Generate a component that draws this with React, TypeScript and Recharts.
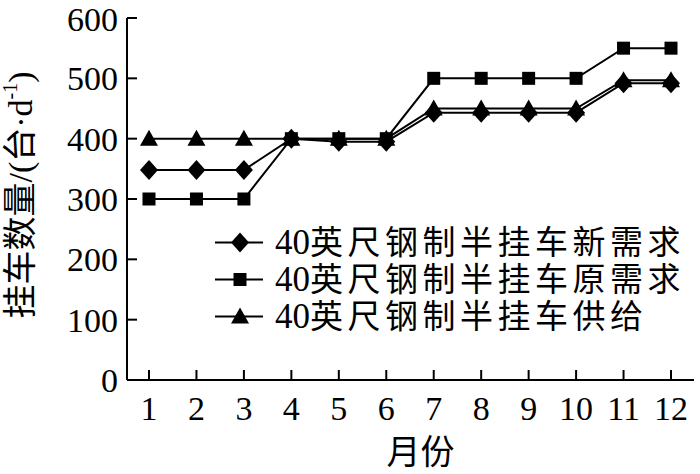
import { Legend, Line, LineChart, XAxis, YAxis } from 'recharts'

const months = ['1', '2', '3', '4', '5', '6', '7', '8', '9', '10', '11', '12']
const newDemand = [348, 348, 348, 400, 395, 395, 443, 443, 443, 443, 492, 492]
const oldDemand = [300, 300, 300, 400, 400, 400, 500, 500, 500, 500, 550, 550]
const supply = [400, 400, 400, 400, 400, 400, 450, 450, 450, 450, 497, 497]
const yTicks = [0, 100, 200, 300, 400, 500, 600]

const seriesNames: Record<string, string> = {
  newDemand: '40英尺钢制半挂车新需求',
  oldDemand: '40英尺钢制半挂车原需求',
  supply: '40英尺钢制半挂车供给',
}
const legendOrder = ['newDemand', 'oldDemand', 'supply']

type Shape = 'diamond' | 'square' | 'triangle'
const shapes: Record<string, Shape> = {
  newDemand: 'diamond',
  oldDemand: 'square',
  supply: 'triangle',
}

const data = months.map((month, i) => ({
  month,
  newDemand: newDemand[i],
  oldDemand: oldDemand[i],
  supply: supply[i],
}))

const font = '"Liberation Serif", "Times New Roman", "Noto Sans CJK SC", serif'

function markerEl(shape: Shape, cx: number, cy: number, key?: string) {
  if (shape === 'diamond') {
    return (
      <polygon
        key={key}
        points={`${cx},${cy - 10} ${cx + 9},${cy} ${cx},${cy + 10} ${cx - 9},${cy}`}
        fill="#000"
      />
    )
  }
  if (shape === 'square') {
    return <rect key={key} x={cx - 6.5} y={cy - 6.5} width={13} height={13} fill="#000" />
  }
  return (
    <polygon
      key={key}
      points={`${cx},${cy - 9} ${cx + 9},${cy + 7} ${cx - 9},${cy + 7}`}
      fill="#000"
    />
  )
}

function dotFor(shape: Shape) {
  return (p: any) => {
    if (p.cx == null || p.cy == null) return <g key={`${shape}-${p.index}`} />
    return markerEl(shape, p.cx, p.cy, `${shape}-${p.index}`)
  }
}

function LegendBox({ payload }: any) {
  const items = [...(payload || [])].sort(
    (a: any, b: any) => legendOrder.indexOf(a.dataKey) - legendOrder.indexOf(b.dataKey),
  )
  return (
    <div style={{ fontFamily: font, fontSize: 33, color: '#000' }}>
      {items.map((item: any) => {
        const m = String(item.value).match(/^(\d*)(.*)$/) || ['', '', String(item.value)]
        return (
          <div
            key={item.dataKey}
            style={{ display: 'flex', alignItems: 'center', height: 37, whiteSpace: 'nowrap' }}
          >
            <svg width={60} height={37} style={{ flex: 'none' }}>
              <line x1={0} y1={18.5} x2={48} y2={18.5} stroke="#000" strokeWidth={2} />
              {markerEl(shapes[item.dataKey], 25, 18.5)}
            </svg>
            <span style={{ display: 'block', lineHeight: '37px', height: 37 }}>
              <span style={{ fontSize: 35 }}>{m[1]}</span>
              <span style={{ letterSpacing: 4.5 }}>{m[2]}</span>
            </span>
          </div>
        )
      })}
    </div>
  )
}

function YTitle({ viewBox }: any) {
  const cy = viewBox.y + viewBox.height / 2 - 4
  return (
    <text
      x={0}
      y={0}
      transform={`translate(24, ${cy}) rotate(-90)`}
      textAnchor="middle"
      dominantBaseline="middle"
      fontFamily={font}
      fontSize={34}
      fill="#000"
    >
      挂车数量/(台·d
      <tspan fontSize={20} dy={-12}>-1</tspan>
      <tspan dy={12}>)</tspan>
    </text>
  )
}

function XTitle({ viewBox }: any) {
  return (
    <text
      x={viewBox.x + viewBox.width / 2 + 10}
      y={viewBox.y + 76}
      textAnchor="middle"
      dominantBaseline="middle"
      fontFamily={font}
      fontSize={34}
      fill="#000"
    >
      月份
    </text>
  )
}

export default function App() {
  return (
    <div style={{ position: 'absolute', left: 0, top: 0, width: 700, height: 474, background: '#fff' }}>
      <LineChart
        width={700}
        height={474}
        data={data}
        margin={{ top: 18, right: 6, bottom: 0, left: 0 }}
      >
        <XAxis
          dataKey="month"
          height={94}
          padding={{ left: 22, right: 23 }}
          axisLine={{ stroke: '#000', strokeWidth: 2 }}
          tickLine={{ stroke: '#000', strokeWidth: 2 }}
          tickSize={-10}
          tickMargin={26}
          interval={0}
          tick={{ fill: '#000', fontSize: 34, fontFamily: font }}
          label={<XTitle />}
        />
        <YAxis
          width={127}
          domain={[0, 600]}
          ticks={yTicks}
          axisLine={{ stroke: '#000', strokeWidth: 2 }}
          tickLine={{ stroke: '#000', strokeWidth: 2 }}
          tickSize={-10}
          tickMargin={19}
          tick={{ fill: '#000', fontSize: 34, fontFamily: font }}
          label={<YTitle />}
        />
        <Legend
          layout="vertical"
          align="center"
          verticalAlign="middle"
          content={<LegendBox />}
          wrapperStyle={{ left: 215, top: 224, width: 'auto' }}
        />
        <Line
          dataKey="supply"
          name={seriesNames.supply}
          stroke="#000"
          strokeWidth={2}
          dot={dotFor('triangle')}
          activeDot={false}
          isAnimationActive={false}
        />
        <Line
          dataKey="newDemand"
          name={seriesNames.newDemand}
          stroke="#000"
          strokeWidth={2}
          dot={dotFor('diamond')}
          activeDot={false}
          isAnimationActive={false}
        />
        <Line
          dataKey="oldDemand"
          name={seriesNames.oldDemand}
          stroke="#000"
          strokeWidth={2}
          dot={dotFor('square')}
          activeDot={false}
          isAnimationActive={false}
        />
      </LineChart>
    </div>
  )
}
